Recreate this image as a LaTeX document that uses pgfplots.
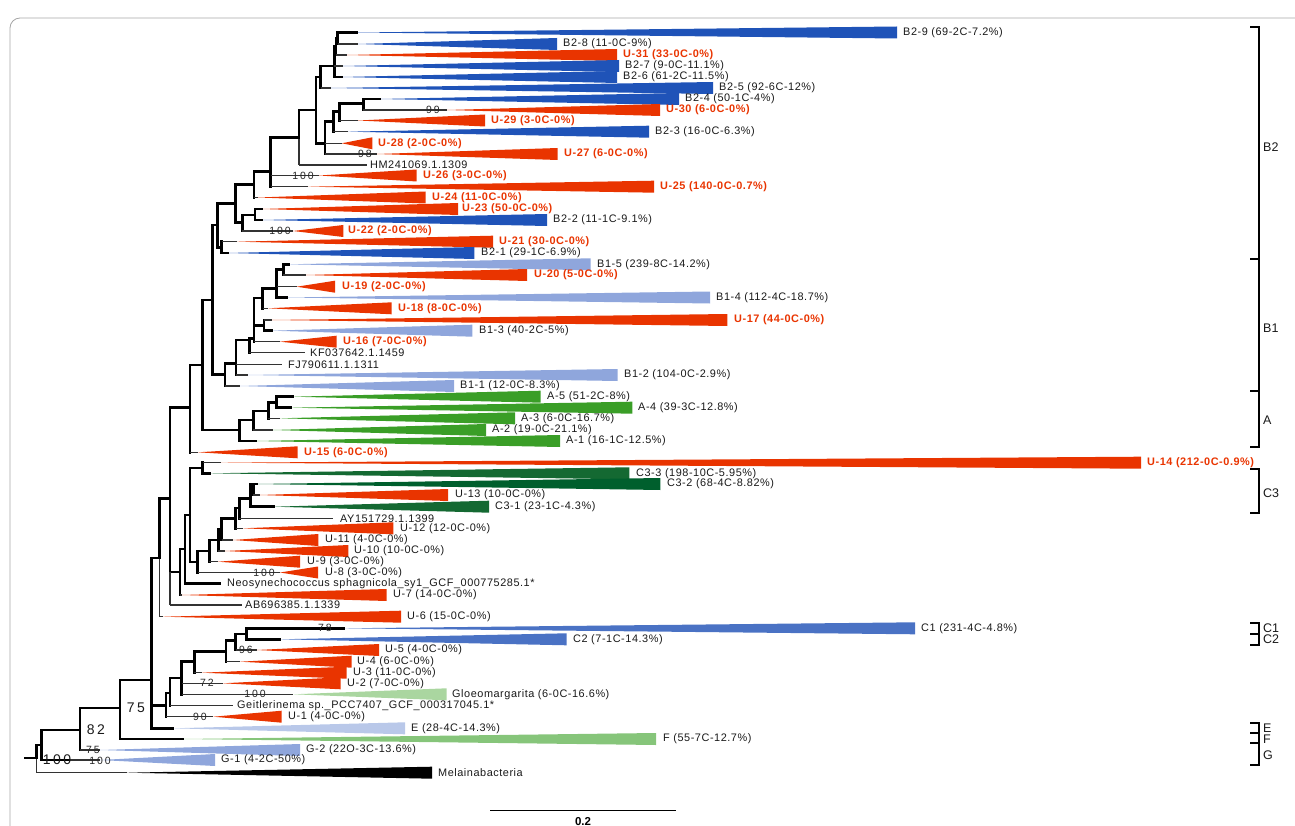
\documentclass[border=0pt]{standalone}
\usepackage{fontspec}
\setmainfont{Liberation Sans}
\newfontfamily\labf[LetterSpace=5]{Liberation Sans}
\newfontfamily\bsf[LetterSpace=18]{Liberation Sans}
\usepackage{pgfplots}
\pgfplotsset{compat=1.18}
\definecolor{bB}{RGB}{31,83,184}
\definecolor{cB}{RGB}{74,114,196}
\definecolor{uR}{RGB}{233,52,0}
\definecolor{lB}{RGB}{143,166,220}
\definecolor{eB}{RGB}{185,200,233}
\definecolor{aG}{RGB}{58,158,39}
\definecolor{cG}{RGB}{20,105,50}
\definecolor{cG2}{RGB}{0,95,45}
\definecolor{glG}{RGB}{170,214,160}
\definecolor{fG}{RGB}{134,197,122}
\tikzset{
 thk/.style={black, line width=2.8pt, line cap=rect},
 thn/.style={black!80, line width=1.1pt},
 tri/.style={draw=none},
 lab/.style={anchor=west, inner sep=0pt, font=\labf\fontsize{10.9}{12}\selectfont, text=black!90},
 ulab/.style={anchor=west, inner sep=0pt, font=\labf\bfseries\fontsize{10.9}{12}\selectfont, text=uR},
 bs/.style={inner sep=0pt, font=\bsf\fontsize{10.5}{11}\selectfont, text=black!85},
 bsb/.style={inner sep=0pt, font=\bsf\fontsize{14}{15}\selectfont, text=black!90},
 brl/.style={anchor=west, inner sep=0pt, font=\fontsize{12.5}{13}\selectfont, text=black!90},
}
\begin{document}
\begin{tikzpicture}
\begin{axis}[name=ax, width=1295pt, height=826pt, scale only axis,
 xmin=0, xmax=1295, ymin=0, ymax=826, y dir=reverse,
 axis lines=none, ticks=none, clip=false]
% frame
\addplot[gray!70, line width=0.8pt, rounded corners=10pt] coordinates {(10,826) (10,18) (1295,18)};
% ---------- collapsed clades ----------
\addplot[tri,fill=bB] coordinates {(357,32.5) (897,26.5) (897,38.5)} -- cycle;
\addplot[tri,fill=bB] coordinates {(358,44) (557,38) (557,50)} -- cycle;
\addplot[tri,fill=uR] coordinates {(347,55) (617,49) (617,61)} -- cycle;
\addplot[tri,fill=bB] coordinates {(343,66) (619,60) (619,72)} -- cycle;
\addplot[tri,fill=bB] coordinates {(341.7,77) (617,71) (617,83)} -- cycle;
\addplot[tri,fill=bB] coordinates {(331,88) (713,82) (713,94)} -- cycle;
\addplot[tri,fill=bB] coordinates {(380,99) (679,93) (679,105)} -- cycle;
\addplot[tri,fill=uR] coordinates {(447,110) (660,104) (660,116)} -- cycle;
\addplot[tri,fill=uR] coordinates {(358,120.5) (485,114.5) (485,126.5)} -- cycle;
\addplot[tri,fill=bB] coordinates {(348,131.7) (649,125.7) (649,137.7)} -- cycle;
\addplot[tri,fill=uR] coordinates {(341.7,143.3) (372.3,137.3) (372.3,149.3)} -- cycle;
\addplot[tri,fill=uR] coordinates {(377,154) (557.7,148) (557.7,160)} -- cycle;
\addplot[tri,fill=uR] coordinates {(319,175.5) (416.7,169.5) (416.7,181.5)} -- cycle;
\addplot[tri,fill=uR] coordinates {(308,186.7) (654,180.7) (654,192.7)} -- cycle;
\addplot[tri,fill=uR] coordinates {(258,197.5) (425.7,191.5) (425.7,203.5)} -- cycle;
\addplot[tri,fill=uR] coordinates {(262,209) (458,203) (458,215)} -- cycle;
\addplot[tri,fill=bB] coordinates {(262,220) (547,214) (547,226)} -- cycle;
\addplot[tri,fill=uR] coordinates {(293,231) (343.3,225) (343.3,237)} -- cycle;
\addplot[tri,fill=uR] coordinates {(237,241.7) (493,235.7) (493,247.7)} -- cycle;
\addplot[tri,fill=bB] coordinates {(228,253) (474.3,247) (474.3,259)} -- cycle;
\addplot[tri,fill=lB] coordinates {(288.3,264.3) (590.7,258.3) (590.7,270.3)} -- cycle;
\addplot[tri,fill=uR] coordinates {(306,275) (527,269) (527,281)} -- cycle;
\addplot[tri,fill=uR] coordinates {(296.7,286.7) (335,280.7) (335,292.7)} -- cycle;
\addplot[tri,fill=lB] coordinates {(287,297.5) (710,291.5) (710,303.5)} -- cycle;
\addplot[tri,fill=uR] coordinates {(268,308.3) (391.7,302.3) (391.7,314.3)} -- cycle;
\addplot[tri,fill=uR] coordinates {(271.7,320) (727.3,314) (727.3,326)} -- cycle;
\addplot[tri,fill=lB] coordinates {(271.7,330.7) (472.3,324.7) (472.3,336.7)} -- cycle;
\addplot[tri,fill=uR] coordinates {(280,341.7) (336.7,335.7) (336.7,347.7)} -- cycle;
\addplot[tri,fill=lB] coordinates {(248,375) (617.7,369) (617.7,381)} -- cycle;
\addplot[tri,fill=lB] coordinates {(240,386) (454,380) (454,392)} -- cycle;
\addplot[tri,fill=aG] coordinates {(293,396.7) (540.7,390.7) (540.7,402.7)} -- cycle;
\addplot[tri,fill=aG] coordinates {(291,407.7) (632.3,401.7) (632.3,413.7)} -- cycle;
\addplot[tri,fill=aG] coordinates {(280,418.3) (515,412.3) (515,424.3)} -- cycle;
\addplot[tri,fill=aG] coordinates {(273,430) (486,424) (486,436)} -- cycle;
\addplot[tri,fill=aG] coordinates {(256,441) (560,435) (560,447)} -- cycle;
\addplot[tri,fill=uR] coordinates {(198,452.3) (297.7,446.3) (297.7,458.3)} -- cycle;
\addplot[tri,fill=uR] coordinates {(220.7,462.7) (1141,456.7) (1141,468.7)} -- cycle;
\addplot[tri,fill=cG] coordinates {(209.3,473.3) (629.3,467.3) (629.3,479.3)} -- cycle;
\addplot[tri,fill=cG2] coordinates {(256.7,484) (660.3,478) (660.3,490)} -- cycle;
\addplot[tri,fill=uR] coordinates {(260,495) (448,489) (448,501)} -- cycle;
\addplot[tri,fill=cG] coordinates {(274,506.7) (489,500.7) (489,512.7)} -- cycle;
\addplot[tri,fill=uR] coordinates {(243,528.3) (393.3,522.3) (393.3,534.3)} -- cycle;
\addplot[tri,fill=uR] coordinates {(233,540) (318.3,534) (318.3,546)} -- cycle;
\addplot[tri,fill=uR] coordinates {(225,551) (348.3,545) (348.3,557)} -- cycle;
\addplot[tri,fill=uR] coordinates {(218,561.7) (300,555.7) (300,567.7)} -- cycle;
\addplot[tri,fill=uR] coordinates {(280,572.5) (318,566.5) (318,578.5)} -- cycle;
\addplot[tri,fill=uR] coordinates {(182,595) (386.7,589) (386.7,601)} -- cycle;
\addplot[tri,fill=uR] coordinates {(163,616.7) (401,610.7) (401,622.7)} -- cycle;
\addplot[tri,fill=cB] coordinates {(343.3,628.3) (915,622.3) (915,634.3)} -- cycle;
\addplot[tri,fill=cB] coordinates {(280,639.3) (566.7,633.3) (566.7,645.3)} -- cycle;
\addplot[tri,fill=uR] coordinates {(256.7,650) (379,644) (379,656)} -- cycle;
\addplot[tri,fill=uR] coordinates {(240,661.7) (351.7,655.7) (351.7,667.7)} -- cycle;
\addplot[tri,fill=uR] coordinates {(201.7,672.7) (346.7,666.7) (346.7,678.7)} -- cycle;
\addplot[tri,fill=uR] coordinates {(222.7,683.3) (340.7,677.3) (340.7,689.3)} -- cycle;
\addplot[tri,fill=glG] coordinates {(293.3,694.3) (446.7,688.3) (446.7,700.3)} -- cycle;
\addplot[tri,fill=uR] coordinates {(213.3,716.7) (281.7,710.7) (281.7,722.7)} -- cycle;
\addplot[tri,fill=eB] coordinates {(172.7,728.3) (405,722.3) (405,734.3)} -- cycle;
\addplot[tri,fill=fG] coordinates {(183,739) (656,733) (656,745)} -- cycle;
\addplot[tri,fill=lB] coordinates {(100,750) (300,744) (300,756)} -- cycle;
\addplot[tri,fill=lB] coordinates {(100,760) (215,754) (215,766)} -- cycle;
\addplot[tri,fill=black] coordinates {(127,772.7) (432,766.7) (432,778.7)} -- cycle;
% ---------- internal nodes: vertical + connector to parent ----------
\addplot[thk] coordinates {(337.7,32.5) (337.7,44)};   \addplot[thk] coordinates {(336,38.2) (337.7,38.2)};
\addplot[thk] coordinates {(336,38.2) (336,55)};       \addplot[thk] coordinates {(334.3,46.6) (336,46.6)};
\addplot[thk] coordinates {(334.3,46.6) (334.3,77)};   \addplot[thk] coordinates {(320.7,66) (334.3,66)};
\addplot[thk] coordinates {(320.7,66) (320.7,88)};     \addplot[thk] coordinates {(316,77) (320.7,77)};
\addplot[thk] coordinates {(363.3,99) (363.3,110)};    \addplot[thk] coordinates {(339.3,103.3) (363.3,103.3)};
\addplot[thk] coordinates {(339.3,103.3) (339.3,120.5)}; \addplot[thk] coordinates {(333.3,111.7) (339.3,111.7)};
\addplot[thk] coordinates {(333.3,111.7) (333.3,131.7)}; \addplot[thk] coordinates {(325,121.7) (333.3,121.7)};
\addplot[thk] coordinates {(325,121.7) (325,154)};     \addplot[thk] coordinates {(316,143.3) (325,143.3)};
\addplot[thk] coordinates {(316,77) (316,143.3)};      \addplot[thk] coordinates {(299,110) (316,110)};
\addplot[thk] coordinates {(299,110) (299,137.7)};     \addplot[thn] coordinates {(299,137.7) (299,165)};
\addplot[thk] coordinates {(270.7,137.7) (299,137.7)};
\addplot[thk] coordinates {(270.7,137.7) (270.7,186.7)}; \addplot[thk] coordinates {(254,171.7) (270.7,171.7)};
\addplot[thk] coordinates {(254,171.7) (254,197.5)};   \addplot[thk] coordinates {(235.7,184.3) (254,184.3)};
\addplot[thk] coordinates {(255,209) (255,220)};       \addplot[thk] coordinates {(242.3,215) (255,215)};
\addplot[thk] coordinates {(242.3,215) (242.3,231)};   \addplot[thk] coordinates {(235.7,222.3) (242.3,222.3)};
\addplot[thk] coordinates {(235.7,184.3) (235.7,222.3)}; \addplot[thk] coordinates {(217.3,203.3) (235.7,203.3)};
\addplot[thk] coordinates {(221.7,241.7) (221.7,253)}; \addplot[thk] coordinates {(217.3,247.3) (221.7,247.3)};
\addplot[thk] coordinates {(217.3,203.3) (217.3,247.3)}; \addplot[thk] coordinates {(212.7,225) (217.3,225)};
\addplot[thk] coordinates {(283.3,264.3) (283.3,275)}; \addplot[thk] coordinates {(276.7,269.7) (283.3,269.7)};
\addplot[thk] coordinates {(276.7,269.7) (276.7,297.5)}; \addplot[thk] coordinates {(262.7,288.3) (276.7,288.3)};
\addplot[thk] coordinates {(262.7,288.3) (262.7,308.3)}; \addplot[thk] coordinates {(254,298) (262.7,298)};
\addplot[thk] coordinates {(264,320) (264,330.7)};     \addplot[thk] coordinates {(254,325.3) (264,325.3)};
\addplot[thk] coordinates {(254,298) (254,341.7)};     \addplot[thk] coordinates {(249.3,338.3) (254,338.3)};
\addplot[thk] coordinates {(249.3,338.3) (249.3,352.7)}; \addplot[thk] coordinates {(236,340) (249.3,340)};
\addplot[thk] coordinates {(236,340) (236,375)};       \addplot[thk] coordinates {(225,363.3) (236,363.3)};
\addplot[thk] coordinates {(225,363.3) (225,386)};     \addplot[thk] coordinates {(212.7,374.3) (225,374.3)};
\addplot[thk] coordinates {(276.7,396.7) (276.7,407.7)}; \addplot[thk] coordinates {(268.3,402.3) (276.7,402.3)};
\addplot[thk] coordinates {(268.3,402.3) (268.3,418.3)}; \addplot[thk] coordinates {(253.3,411) (268.3,411)};
\addplot[thk] coordinates {(253.3,411) (253.3,430)};   \addplot[thk] coordinates {(239.3,420) (253.3,420)};
\addplot[thk] coordinates {(239.3,420) (239.3,441)};   \addplot[thk] coordinates {(202.7,430) (239.3,430)};
\addplot[thk] coordinates {(212.7,225) (212.7,374.3)}; \addplot[thk] coordinates {(202.7,300) (212.7,300)};
\addplot[thk] coordinates {(202.7,300) (202.7,430)};   \addplot[thk] coordinates {(190,365) (202.7,365)};
\addplot[thk] coordinates {(190,365) (190,452.3)};     \addplot[thk] coordinates {(170,407.7) (190,407.7)};
\addplot[thk] coordinates {(202.7,462.7) (202.7,473.3)}; \addplot[thk] coordinates {(190,468) (202.7,468)};
\addplot[thk] coordinates {(253.3,484) (253.3,495)};   \addplot[thk] coordinates {(250.7,489.5) (253.3,489.5)};
\addplot[thk] coordinates {(250.7,484) (250.7,506.7)}; \addplot[thk] coordinates {(239.3,498.3) (250.7,498.3)};
\addplot[thk] coordinates {(239.3,498.3) (239.3,518.3)}; \addplot[thk] coordinates {(235.7,508) (239.3,508)};
\addplot[thk] coordinates {(235.7,508) (235.7,528.3)}; \addplot[thk] coordinates {(221.7,518.3) (235.7,518.3)};
\addplot[thk] coordinates {(221.7,518.3) (221.7,540)}; \addplot[thk] coordinates {(218.3,529) (221.7,529)};
\addplot[thk] coordinates {(218.3,529) (218.3,551)};   \addplot[thk] coordinates {(209.3,540) (218.3,540)};
\addplot[thk] coordinates {(209.3,540) (209.3,561.7)}; \addplot[thk] coordinates {(197.5,551) (209.3,551)};
\addplot[thk] coordinates {(197.5,551) (197.5,572.5)}; \addplot[thk] coordinates {(190,562) (197.5,562)};
\addplot[thk] coordinates {(190,468) (190,562)};       \addplot[thk] coordinates {(185,515) (190,515)};
\addplot[thk] coordinates {(185,515) (185,583.5)};     \addplot[thk] coordinates {(180,549) (185,549)};
\addplot[thk] coordinates {(180,549) (180,595)};       \addplot[thk] coordinates {(170,572) (180,572)};
\addplot[thk] coordinates {(170,407.7) (170,572)};     \addplot[thn] coordinates {(170,572) (170,605)};
\addplot[thk] coordinates {(159.3,498.3) (170,498.3)};
\addplot[thk] coordinates {(159.3,498.3) (159.3,558)}; \addplot[thn] coordinates {(159.3,558) (159.3,616.7)};
\addplot[thk] coordinates {(151.7,558) (159.3,558)};
\addplot[thk] coordinates {(246.7,628.3) (246.7,639.3)}; \addplot[thk] coordinates {(235.7,634) (246.7,634)};
\addplot[thk] coordinates {(235.7,634) (235.7,650)};   \addplot[thk] coordinates {(226,640.7) (235.7,640.7)};
\addplot[thk] coordinates {(226,640.7) (226,661.7)};   \addplot[thk] coordinates {(194.3,651.7) (226,651.7)};
\addplot[thk] coordinates {(194.3,651.7) (194.3,672.7)}; \addplot[thk] coordinates {(181.7,661.7) (194.3,661.7)};
\addplot[thk] coordinates {(181.7,661.7) (181.7,694.3)}; \addplot[thk] coordinates {(170,678) (181.7,678)};
\addplot[thk] coordinates {(170,678) (170,705.7)};     \addplot[thk] coordinates {(166,693) (170,693)};
\addplot[thk] coordinates {(166,693) (166,716.7)};     \addplot[thk] coordinates {(151.7,705.7) (166,705.7)};
\addplot[thk] coordinates {(151.7,558) (151.7,728.3)}; \addplot[thk] coordinates {(120,680) (151.7,680)};
\addplot[thk] coordinates {(120,680) (120,739)};       \addplot[thk] coordinates {(80,708) (120,708)};
\addplot[thk] coordinates {(80,708) (80,750)};         \addplot[thk] coordinates {(41.7,730) (80,730)};
\addplot[thk] coordinates {(41.7,730) (41.7,760)};     \addplot[thk] coordinates {(36.7,745) (41.7,745)};
\addplot[thk] coordinates {(36.7,745) (36.7,758)};     \addplot[thn] coordinates {(36.7,758) (36.7,772.7)};
\addplot[thk] coordinates {(25,758) (36.7,758)};
% ---------- leaf stubs ----------
\addplot[thk] coordinates {(337.7,32.5) (357,32.5)};
\addplot[thn] coordinates {(337.7,44) (358,44)};
\addplot[thn] coordinates {(336,55) (347,55)};
\addplot[thn] coordinates {(334.3,66) (343,66)};
\addplot[thk] coordinates {(334.3,77) (341.7,77)};
\addplot[thn] coordinates {(320.7,88) (331,88)};
\addplot[thk] coordinates {(363.3,99) (380,99)};
\addplot[thn] coordinates {(363.3,110) (447,110)};
\addplot[thn] coordinates {(339.3,120.5) (358,120.5)};
\addplot[thn] coordinates {(333.3,131.7) (348,131.7)};
\addplot[thn] coordinates {(325,143.3) (341.7,143.3)};
\addplot[thn] coordinates {(325,154) (377,154)};
\addplot[thn] coordinates {(299,165) (366.7,165)};
\addplot[thn] coordinates {(270.7,175.5) (319,175.5)};
\addplot[thn] coordinates {(270.7,186.7) (308,186.7)};
\addplot[thn] coordinates {(254,197.5) (258,197.5)};
\addplot[thk] coordinates {(255,209) (262,209)};
\addplot[thk] coordinates {(255,220) (262,220)};
\addplot[thn] coordinates {(242.3,231) (293,231)};
\addplot[thn] coordinates {(221.7,241.7) (237,241.7)};
\addplot[thk] coordinates {(221.7,253) (228,253)};
\addplot[thk] coordinates {(283.3,264.3) (288.3,264.3)};
\addplot[thn] coordinates {(283.3,275) (306,275)};
\addplot[thn] coordinates {(276.7,286.7) (296.7,286.7)};
\addplot[thk] coordinates {(276.7,297.5) (287,297.5)};
\addplot[thn] coordinates {(262.7,308.3) (268,308.3)};
\addplot[thn] coordinates {(264,320) (271.7,320)};
\addplot[thk] coordinates {(264,330.7) (271.7,330.7)};
\addplot[thn] coordinates {(254,341.7) (280,341.7)};
\addplot[thn] coordinates {(249.3,352.7) (305,352.7)};
\addplot[thn] coordinates {(236,364.3) (281.7,364.3)};
\addplot[thn] coordinates {(236,375) (248,375)};
\addplot[thn] coordinates {(225,386) (240,386)};
\addplot[thk] coordinates {(276.7,396.7) (293,396.7)};
\addplot[thk] coordinates {(276.7,407.7) (291,407.7)};
\addplot[thn] coordinates {(268.3,418.3) (280,418.3)};
\addplot[thn] coordinates {(253.3,430) (273,430)};
\addplot[thk] coordinates {(239.3,441) (256,441)};
\addplot[thn] coordinates {(190,452.3) (198,452.3)};
\addplot[thn] coordinates {(202.7,462.7) (220.7,462.7)};
\addplot[thk] coordinates {(202.7,473.3) (209.3,473.3)};
\addplot[thk] coordinates {(253.3,484) (256.7,484)};
\addplot[thn] coordinates {(253.3,495) (260,495)};
\addplot[thk] coordinates {(250.7,506.7) (274,506.7)};
\addplot[thn] coordinates {(239.3,518.3) (333.3,518.3)};
\addplot[thn] coordinates {(235.7,528.3) (243,528.3)};
\addplot[thn] coordinates {(221.7,540) (233,540)};
\addplot[thn] coordinates {(218.3,551) (225,551)};
\addplot[thn] coordinates {(209.3,561.7) (218,561.7)};
\addplot[thn] coordinates {(197.5,572.5) (280,572.5)};
\addplot[thk] coordinates {(185,583.5) (220,583.5)};
\addplot[thn] coordinates {(180,595) (182,595)};
\addplot[thn] coordinates {(170,605) (241.7,605)};
\addplot[thn] coordinates {(159.3,616.7) (163,616.7)};
\addplot[thk] coordinates {(246.7,628.3) (343.3,628.3)};
\addplot[thk] coordinates {(246.7,639.3) (280,639.3)};
\addplot[thn] coordinates {(235.7,650) (256.7,650)};
\addplot[thn] coordinates {(226,661.7) (240,661.7)};
\addplot[thn] coordinates {(194.3,672.7) (201.7,672.7)};
\addplot[thn] coordinates {(181.7,683.3) (222.7,683.3)};
\addplot[thn] coordinates {(181.7,694.3) (293.3,694.3)};
\addplot[thn] coordinates {(170,705.7) (233.3,705.7)};
\addplot[thn] coordinates {(166,716.7) (213.3,716.7)};
\addplot[thk] coordinates {(151.7,728.3) (172.7,728.3)};
\addplot[thk] coordinates {(120,739) (183,739)};
\addplot[thn] coordinates {(80,750) (100,750)};
\addplot[thk] coordinates {(41.7,760) (70,760)};
\addplot[thn] coordinates {(70,760) (100,760)};
\addplot[thn] coordinates {(36.7,772.7) (127,772.7)};
% ---------- scale bar ----------
\addplot[black, line width=1pt] coordinates {(490,810.5) (676,810.5)};
% ---------- brackets ----------
\addplot[black, line width=2.2pt] coordinates {(1250,27.3) (1259.3,27.3) (1259.3,258.7) (1250,258.7)};
\addplot[black, line width=2.2pt] coordinates {(1250,258.7) (1259.3,258.7) (1259.3,390.7) (1250,390.7)};
\addplot[black, line width=2.2pt] coordinates {(1250,390.7) (1259.3,390.7) (1259.3,446.7) (1250,446.7)};
\addplot[black, line width=2.2pt] coordinates {(1250,469.3) (1259.3,469.3) (1259.3,512.7) (1250,512.7)};
\addplot[black, line width=2.2pt] coordinates {(1250,623.3) (1259.3,623.3) (1259.3,634) (1250,634)};
\addplot[black, line width=2.2pt] coordinates {(1250,634) (1259.3,634) (1259.3,645) (1250,645)};
\addplot[black, line width=2.2pt] coordinates {(1250,722.7) (1259.3,722.7) (1259.3,733.3) (1250,733.3)};
\addplot[black, line width=2.2pt] coordinates {(1250,733.3) (1259.3,733.3) (1259.3,743.3) (1250,743.3)};
\addplot[black, line width=2.2pt] coordinates {(1250,743.3) (1259.3,743.3) (1259.3,765) (1250,765)};
% ---------- bracket labels ----------
\node[brl] at (axis cs:1263,147) {B2};
\node[brl] at (axis cs:1263,327.7) {B1};
\node[brl] at (axis cs:1263,420) {A};
\node[brl] at (axis cs:1263,493.3) {C3};
\node[brl] at (axis cs:1263,628.3) {C1};
\node[brl] at (axis cs:1263,639.3) {C2};
\node[brl] at (axis cs:1263,727.7) {E};
\node[brl] at (axis cs:1263,739.3) {F};
\node[brl] at (axis cs:1263,755) {G};
% ---------- leaf labels ----------
\node[lab] at (axis cs:903,32.5) {B2-9 (69-2C-7.2\%)};
\node[lab] at (axis cs:563,44) {B2-8 (11-0C-9\%)};
\node[ulab] at (axis cs:623,55) {U-31 (33-0C-0\%)};
\node[lab] at (axis cs:625,66) {B2-7 (9-0C-11.1\%)};
\node[lab] at (axis cs:623,77) {B2-6 (61-2C-11.5\%)};
\node[lab] at (axis cs:719,88) {B2-5 (92-6C-12\%)};
\node[lab] at (axis cs:685,99) {B2-4 (50-1C-4\%)};
\node[ulab] at (axis cs:666,110) {U-30 (6-0C-0\%)};
\node[ulab] at (axis cs:491,120.5) {U-29 (3-0C-0\%)};
\node[lab] at (axis cs:655,131.7) {B2-3 (16-0C-6.3\%)};
\node[ulab] at (axis cs:378,143.3) {U-28 (2-0C-0\%)};
\node[ulab] at (axis cs:564,154) {U-27 (6-0C-0\%)};
\node[lab] at (axis cs:370,165) {HM241069.1.1309};
\node[ulab] at (axis cs:423,175.5) {U-26 (3-0C-0\%)};
\node[ulab] at (axis cs:660,186.7) {U-25 (140-0C-0.7\%)};
\node[ulab] at (axis cs:432,197.5) {U-24 (11-0C-0\%)};
\node[ulab] at (axis cs:462,209) {U-23 (50-0C-0\%)};
\node[lab] at (axis cs:553,220) {B2-2 (11-1C-9.1\%)};
\node[ulab] at (axis cs:348,231) {U-22 (2-0C-0\%)};
\node[ulab] at (axis cs:499,241.7) {U-21 (30-0C-0\%)};
\node[lab] at (axis cs:481,253) {B2-1 (29-1C-6.9\%)};
\node[lab] at (axis cs:597,264.3) {B1-5 (239-8C-14.2\%)};
\node[ulab] at (axis cs:534,275) {U-20 (5-0C-0\%)};
\node[ulab] at (axis cs:342,286.7) {U-19 (2-0C-0\%)};
\node[lab] at (axis cs:716,297.5) {B1-4 (112-4C-18.7\%)};
\node[ulab] at (axis cs:398,308.3) {U-18 (8-0C-0\%)};
\node[ulab] at (axis cs:734,320) {U-17 (44-0C-0\%)};
\node[lab] at (axis cs:479,330.7) {B1-3 (40-2C-5\%)};
\node[ulab] at (axis cs:343,341.7) {U-16 (7-0C-0\%)};
\node[lab] at (axis cs:310,352.7) {KF037642.1.1459};
\node[lab] at (axis cs:288,364.3) {FJ790611.1.1311};
\node[lab] at (axis cs:624,375) {B1-2 (104-0C-2.9\%)};
\node[lab] at (axis cs:460,386) {B1-1 (12-0C-8.3\%)};
\node[lab] at (axis cs:547,396.7) {A-5 (51-2C-8\%)};
\node[lab] at (axis cs:638,407.7) {A-4 (39-3C-12.8\%)};
\node[lab] at (axis cs:521,418.3) {A-3 (6-0C-16.7\%)};
\node[lab] at (axis cs:492,430) {A-2 (19-0C-21.1\%)};
\node[lab] at (axis cs:566,441) {A-1 (16-1C-12.5\%)};
\node[ulab] at (axis cs:304,452.3) {U-15 (6-0C-0\%)};
\node[ulab] at (axis cs:1147,462.7) {U-14 (212-0C-0.9\%)};
\node[lab] at (axis cs:636,473.3) {C3-3 (198-10C-5.95\%)};
\node[lab] at (axis cs:667,484) {C3-2 (68-4C-8.82\%)};
\node[lab] at (axis cs:455,495) {U-13 (10-0C-0\%)};
\node[lab] at (axis cs:495,506.7) {C3-1 (23-1C-4.3\%)};
\node[lab] at (axis cs:340,518.3) {AY151729.1.1399};
\node[lab] at (axis cs:400,528.3) {U-12 (12-0C-0\%)};
\node[lab] at (axis cs:325,540) {U-11 (4-0C-0\%)};
\node[lab] at (axis cs:354,551) {U-10 (10-0C-0\%)};
\node[lab] at (axis cs:307,561.7) {U-9 (3-0C-0\%)};
\node[lab] at (axis cs:325,572.5) {U-8 (3-0C-0\%)};
\node[lab] at (axis cs:227,583.5) {Neosynechococcus sphagnicola\_sy1\_GCF\_000775285.1*};
\node[lab] at (axis cs:393,595) {U-7 (14-0C-0\%)};
\node[lab] at (axis cs:245,605) {AB696385.1.1339};
\node[lab] at (axis cs:407,616.7) {U-6 (15-0C-0\%)};
\node[lab] at (axis cs:921,628.3) {C1 (231-4C-4.8\%)};
\node[lab] at (axis cs:573,639.3) {C2 (7-1C-14.3\%)};
\node[lab] at (axis cs:385,650) {U-5 (4-0C-0\%)};
\node[lab] at (axis cs:357,661.7) {U-4 (6-0C-0\%)};
\node[lab] at (axis cs:353,672.7) {U-3 (11-0C-0\%)};
\node[lab] at (axis cs:347,683.3) {U-2 (7-0C-0\%)};
\node[lab] at (axis cs:452,694.3) {Gloeomargarita (6-0C-16.6\%)};
\node[lab] at (axis cs:237,705.7) {Geitlerinema sp.\_PCC7407\_GCF\_000317045.1*};
\node[lab] at (axis cs:288,716.7) {U-1 (4-0C-0\%)};
\node[lab] at (axis cs:411,728.3) {E (28-4C-14.3\%)};
\node[lab] at (axis cs:663,739) {F (55-7C-12.7\%)};
\node[lab] at (axis cs:306,750) {G-2 (22O-3C-13.6\%)};
\node[lab] at (axis cs:221,760) {G-1 (4-2C-50\%)};
\node[lab] at (axis cs:438,772.7) {Melainabacteria};
% ---------- bootstrap values ----------
\node[bs] at (axis cs:433,110) {99};
\node[bs] at (axis cs:365,154) {98};
\node[bs] at (axis cs:303,175.5) {100};
\node[bs] at (axis cs:280,231) {100};
\node[bs] at (axis cs:264,572.5) {100};
\node[bs] at (axis cs:325,628.3) {78};
\node[bs] at (axis cs:246,650) {96};
\node[bs] at (axis cs:207,683.3) {72};
\node[bs] at (axis cs:255,694.3) {100};
\node[bs] at (axis cs:200,716.7) {90};
\node[bs] at (axis cs:93,750) {75};
\node[bs] at (axis cs:100,760.5) {100};
\node[bsb] at (axis cs:57,760) {100};
\node[bsb] at (axis cs:96,730) {82};
\node[bsb] at (axis cs:136,708) {75};
\node[anchor=south, inner sep=0pt, font=\bfseries\fontsize{11.5}{12}\selectfont] at (axis cs:583,825.5) {0.2};
\end{axis}
\pgfresetboundingbox
\path (ax.south west) rectangle (ax.north east);
\end{tikzpicture}
\end{document}
